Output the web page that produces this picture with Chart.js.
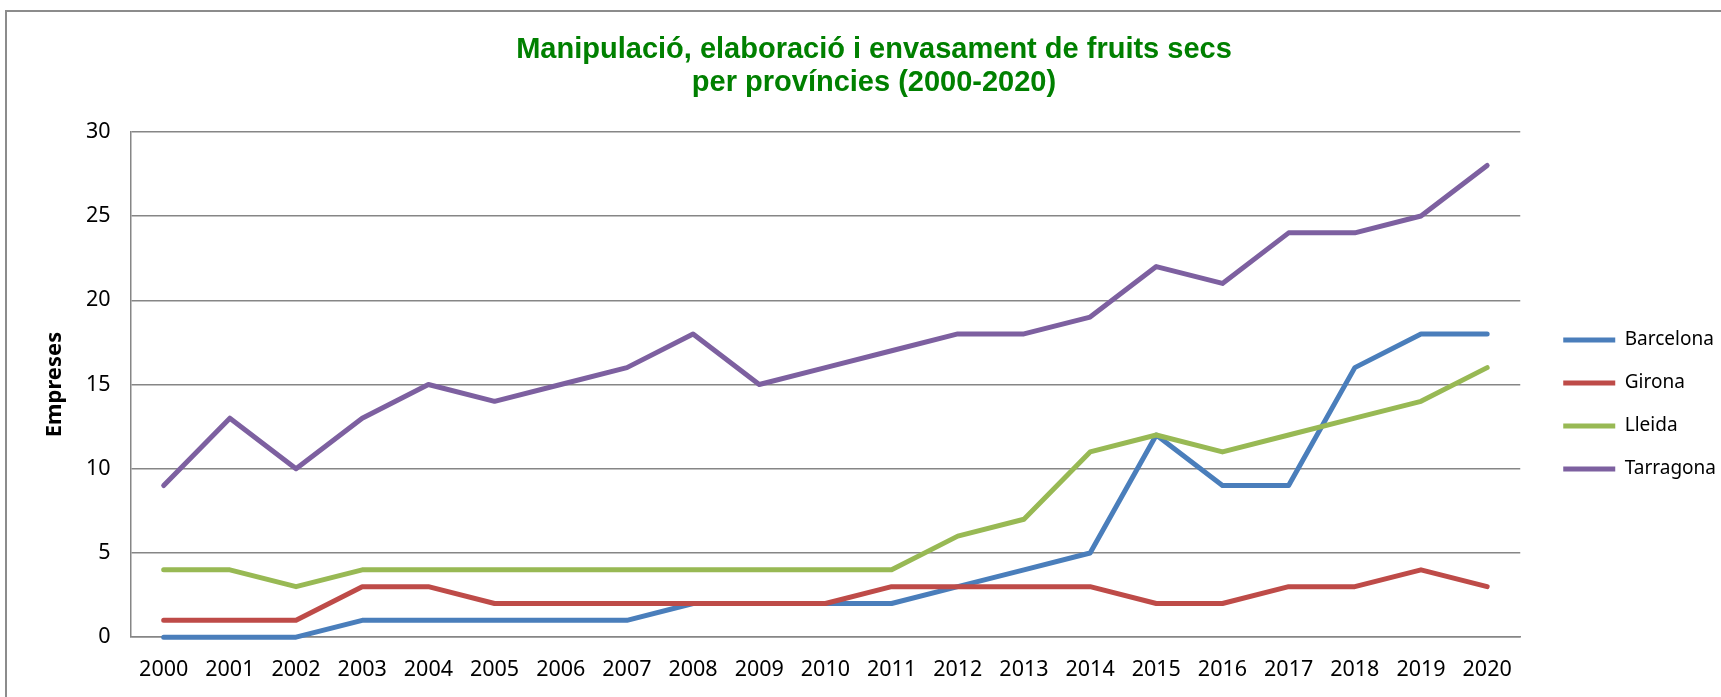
<!DOCTYPE html>
<html>
<head>
<meta charset="utf-8">
<script src="https://cdn.jsdelivr.net/npm/chart.js@4/dist/chart.umd.min.js"></script>
<style>
  html, body { margin: 0; padding: 0; background: #fff; overflow: hidden; }
  #wrap { position: relative; width: 1721px; height: 697px; }
</style>
</head>
<body>
<div id="wrap"><canvas id="c" width="1721" height="697"></canvas></div>
<script>
const years = ['2000','2001','2002','2003','2004','2005','2006','2007','2008','2009','2010','2011','2012','2013','2014','2015','2016','2017','2018','2019','2020'];
const barcelona = [0,0,0,1,1,1,1,1,2,2,2,2,3,4,5,12,9,9,16,18,18];
const girona    = [1,1,1,3,3,2,2,2,2,2,2,3,3,3,3,2,2,3,3,4,3];
const lleida    = [4,4,3,4,4,4,4,4,4,4,4,4,6,7,11,12,11,12,13,14,16];
const tarragona = [9,13,10,13,15,14,15,16,18,15,16,17,18,18,19,22,21,24,24,25,28];
const seriesNames = ['Barcelona','Girona','Lleida','Tarragona'];
const titleLines = ['Manipulació, elaboració i envasament de fruits secs','per províncies (2000-2020)'];
const yTitle = 'Empreses';

const colors = ['#4A7EBB','#BE4B48','#98B954','#7D60A0'];
const seriesData = [barcelona, girona, lleida, tarragona];

const framePlugin = {
  id: 'frame',
  afterLayout(chart) {
    if (chart.legend) {
      chart.legend.left += 19; chart.legend.right += 19;
      chart.legend.top += 53; chart.legend.bottom += 53;
    }
    if (chart.titleBlock) {
      chart.titleBlock.left += 20.5; chart.titleBlock.right += 20.5;
    }
  },
  beforeDraw(chart) {
    const ctx = chart.ctx;
    ctx.save();
    ctx.strokeStyle = '#8c8c8c';
    ctx.lineWidth = 2;
    ctx.beginPath();
    ctx.moveTo(6, 697);
    ctx.lineTo(6, 11);
    ctx.lineTo(1721, 11);
    ctx.stroke();
    ctx.restore();
  }
};

new Chart(document.getElementById('c'), {
  type: 'line',
  data: {
    labels: years,
    datasets: seriesNames.map((n, i) => ({
      label: n,
      data: seriesData[i],
      borderColor: colors[i],
      backgroundColor: colors[i],
      borderWidth: 5,
      pointRadius: 0,
      pointHoverRadius: 0,
      tension: 0,
      borderCapStyle: 'round',
      borderJoinStyle: 'round',
      fill: false,
      clip: false,
      order: 4 - i
    }))
  },
  options: {
    responsive: false,
    animation: false,
    events: [],
    layout: { padding: { left: 0, right: 14, top: 0, bottom: -6 } },
    plugins: {
      title: {
        display: true,
        text: titleLines,
        color: '#008000',
        font: { family: 'Liberation Sans', size: 29, weight: 'bold', lineHeight: 1.16 },
        padding: { top: 33, bottom: 31.5 }
      },
      legend: {
        display: true,
        position: 'right',
        labels: {
          usePointStyle: true,
          pointStyle: 'line',
          pointStyleWidth: 52,
          boxHeight: 19,
          padding: 24,
          color: '#000',
          font: { family: 'Noto Sans', size: 19 },
          sort: (a, b) => a.datasetIndex - b.datasetIndex
        }
      },
      tooltip: { enabled: false }
    },
    scales: {
      x: {
        offset: true,
        grid: { display: false, drawTicks: false },
        border: { display: true, color: '#868686', width: 1.5 },
        ticks: { color: '#000', font: { family: 'Noto Sans', size: 21.5 }, padding: 20, maxRotation: 0, autoSkip: false }
      },
      y: {
        min: 0, max: 30,
        afterFit(scale) { scale.width = 130.6; },
        grid: { color: '#868686', lineWidth: 1.5, drawTicks: false },
        border: { display: true, color: '#868686', width: 1.5 },
        ticks: { stepSize: 5, color: '#000', font: { family: 'Noto Sans', size: 21.5 }, padding: 20 },
        title: {
          display: true,
          text: yTitle,
          color: '#000',
          font: { family: 'Noto Sans', size: 22, weight: 'bold' },
          padding: { top: 41.5, bottom: 0 }
        }
      }
    }
  },
  plugins: [framePlugin]
});
</script>
</body>
</html>
